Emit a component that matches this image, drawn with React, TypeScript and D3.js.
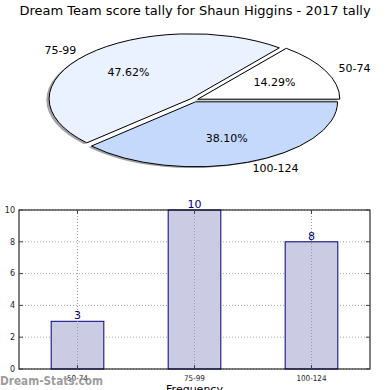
import React from 'react';
import * as d3 from 'd3';

// data
const bins = ['50-74', '75-99', '100-124'];
const counts = [3, 10, 8];
const sliceColors = ['#ffffff', '#eaf1ff', '#c5d9fd'];
const yTicks = [0, 2, 4, 6, 8, 10];

const title = 'Dream Team score tally for Shaun Higgins - 2017 tally';
const font = 'DejaVu Sans, sans-serif';

function darken(c: string) {
  const rgb = d3.rgb(c);
  return d3.rgb(rgb.r * 0.3, rgb.g * 0.3, rgb.b * 0.3).toString();
}

function Pie() {
  let cx = 194, cy = 100, rx = 142, ry = 65;
  let explode = 0.03;
  const total = d3.sum(counts);

  // matplotlib style: start at 3 o'clock, go counter-clockwise
  let pie = d3.pie<number>().sort(null).startAngle(Math.PI / 2).endAngle(Math.PI / 2 - 2 * Math.PI);
  let arcs = pie(counts);
  let arc = d3.arc<any>().innerRadius(0).outerRadius(1);

  let shadows: any[] = [];
  let wedges: any[] = [];
  let texts: any[] = [];

  arcs.forEach((a, i) => {
    let mid = (a.startAngle + a.endAngle) / 2;
    let dx = Math.sin(mid), dy = -Math.cos(mid);
    let ox = cx + explode * rx * dx;
    let oy = cy + explode * ry * dy;
    let d = arc(a) as string;

    shadows.push(
      <path key={i} d={d} transform={`translate(${ox - 2.8},${oy + 1.3}) scale(${rx},${ry})`}
        fill={darken(sliceColors[i])} fillOpacity={0.5} stroke="none" />
    );
    wedges.push(
      <path key={i} d={d} transform={`translate(${ox},${oy}) scale(${rx},${ry})`}
        fill={sliceColors[i]} stroke="black" strokeWidth={1} vectorEffect="non-scaling-stroke" strokeLinejoin="round" />
    );

    let lx = ox + 1.1 * rx * dx;
    let ly = oy + 1.1 * ry * dy;
    texts.push(
      <text key={'l' + i} x={lx} y={ly} dy="0.35em" textAnchor={lx > cx ? 'start' : 'end'}
        fontFamily={font} fontSize={11}>{bins[i]}</text>
    );
    let px = ox + 0.6 * rx * dx;
    let py = oy + 0.6 * ry * dy;
    texts.push(
      <text key={'p' + i} x={px} y={py} dy="0.35em" textAnchor="middle"
        fontFamily={font} fontSize={11}>{d3.format('.2f')(counts[i] / total * 100)}%</text>
    );
  });

  return (
    <g>
      {shadows}
      {wedges}
      {texts}
    </g>
  );
}

function Bars() {
  let left = 19, right = 370, top = 210, bottom = 369;
  let x = d3.scaleLinear().domain([-0.5, 2.5]).range([left, right]);
  let y = d3.scaleLinear().domain([0, 10]).range([bottom, top]);
  let barWidth = 0.45;
  let gridStyle = { stroke: '#a8a8a8', strokeWidth: 1, strokeDasharray: '1,2' };

  return (
    <g>
      {/* grid */}
      {yTicks.map((t, i) => (
        <line key={'gy' + i} x1={left} x2={right} y1={y(t)} y2={y(t)} style={gridStyle} />
      ))}

      {/* bars */}
      {counts.map((c, i) => (
        <rect key={'b' + i} x={x(i - barWidth / 2)} y={y(c)} width={x(barWidth) - x(0)} height={bottom - y(c)}
          fill="#cbcbe3" stroke="#000080" strokeWidth={1} />
      ))}
      {bins.map((b, i) => (
        <line key={'gx' + i} x1={x(i)} x2={x(i)} y1={top} y2={bottom} style={{ ...gridStyle, stroke: '#999' }} />
      ))}
      {counts.map((c, i) => (
        <text key={'v' + i} x={x(i)} y={y(c) - 2} textAnchor="middle" fontFamily={font} fontSize={11} fill="#000080">{c}</text>
      ))}

      {/* frame */}
      <rect x={left} y={top} width={right - left} height={bottom - top} fill="none" stroke="black" strokeWidth={1} />

      {/* ticks */}
      {yTicks.map((t, i) => (
        <g key={'ty' + i}>
          <line x1={left} x2={left + 4} y1={y(t)} y2={y(t)} stroke="#444" />
          <line x1={right} x2={right - 4} y1={y(t)} y2={y(t)} stroke="#444" />
          <text x={left - 4} y={y(t)} dy="0.35em" textAnchor="end" fontFamily={font} fontSize={8} fill="#222">{t}</text>
        </g>
      ))}
      {bins.map((b, i) => (
        <g key={'tx' + i}>
          <line x1={x(i)} x2={x(i)} y1={bottom} y2={bottom - 4} stroke="#444" />
          <line x1={x(i)} x2={x(i)} y1={top} y2={top + 4} stroke="#444" />
          <text x={x(i)} y={bottom + 12} textAnchor="middle" fontFamily={font} fontSize={8} fill="#222"
            transform={`translate(${x(i)},0) scale(0.9,1) translate(${-x(i)},0)`}>{b}</text>
        </g>
      ))}

      <text x={(left + right) / 2} y={393} textAnchor="middle" fontFamily={font} fontSize={11}>Frequency</text>
      <text transform={`translate(${-1},${(top + bottom) / 2}) rotate(-90)`} textAnchor="middle"
        fontFamily={font} fontSize={11}>Occurrences</text>
    </g>
  );
}

export default function App() {
  return (
    <svg width={390} height={390} style={{ position: 'absolute', left: 0, top: 0, background: 'white' }}>
      <rect width={390} height={390} fill="white" />
      <text x={195} y={15} textAnchor="middle" fontFamily={font} fontSize={13}>{title}</text>
      <Pie />
      <Bars />
      <text x={0} y={385} fontFamily={font} fontSize={12} fontWeight={600} fill="#8f8f8f" fillOpacity={0.9}
        textLength={103} lengthAdjust="spacingAndGlyphs">Dream-Stats.com</text>
    </svg>
  );
}
